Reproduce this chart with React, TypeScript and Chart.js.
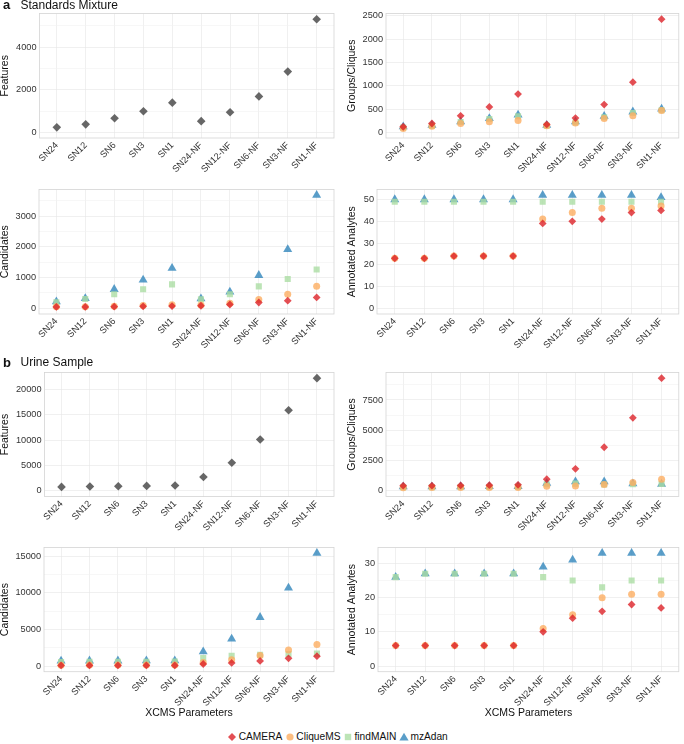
import React, { useEffect, useRef } from "react";
import { Chart, registerables } from "chart.js";

Chart.register(...registerables);

// ---------------- data ----------------
const categories = ["SN24", "SN12", "SN6", "SN3", "SN1", "SN24-NF", "SN12-NF", "SN6-NF", "SN3-NF", "SN1-NF"];
const methods = ["CAMERA", "CliqueMS", "findMAIN", "mzAdan"];

// a. Standards Mixture
const stdFeatures = [235, 375, 665, 990, 1395, 525, 945, 1690, 2855, 5320];
const stdGroupsCAMERA = [120, 190, 355, 545, 820, 170, 305, 595, 1075, 2425];
const stdGroupsCliqueMS = [85, 130, 190, 225, 255, 140, 200, 295, 355, 470];
const stdGroupsFindMAIN = [105, 140, 220, 285, 345, 140, 210, 325, 415, 475];
const stdGroupsMzAdan = [120, 155, 230, 300, 375, 155, 230, 345, 440, 500];
const stdCandCAMERA = [45, 45, 55, 65, 75, 85, 125, 190, 250, 355];
const stdCandCliqueMS = [55, 55, 65, 95, 115, 105, 165, 285, 460, 715];
const stdCandFindMAIN = [200, 305, 460, 620, 780, 295, 460, 715, 955, 1265];
const stdCandMzAdan = [220, 325, 620, 925, 1305, 315, 535, 1075, 1915, 3680];
const stdAnnCAMERA = [23, 23, 24, 24, 24, 39, 40, 41, 44, 45];
const stdAnnCliqueMS = [23, 23, 24, 24, 24, 41, 44, 46, 46, 47];
const stdAnnFindMAIN = [49, 49, 49, 49, 49, 49, 49, 49, 49, 49];
const stdAnnMzAdan = [50, 50, 50, 50, 50, 52, 52, 52, 52, 51];

// b. Urine Sample
const urnFeatures = [780, 850, 915, 980, 1045, 2745, 5555, 10130, 15880, 22220];
const urnGroupsCAMERA = [430, 430, 450, 470, 500, 960, 1820, 3600, 6030, 9300];
const urnGroupsCliqueMS = [250, 270, 275, 280, 285, 385, 410, 520, 690, 960];
const urnGroupsFindMAIN = [300, 310, 315, 320, 330, 550, 600, 520, 550, 580];
const urnGroupsMzAdan = [350, 350, 355, 360, 370, 640, 760, 760, 600, 560];
const urnCandCAMERA = [80, 80, 80, 90, 90, 280, 430, 700, 1050, 1350];
const urnCandCliqueMS = [120, 130, 130, 140, 150, 480, 850, 1450, 2200, 2950];
const urnCandFindMAIN = [560, 580, 580, 590, 600, 1100, 1400, 1550, 1650, 1700];
const urnCandMzAdan = [700, 720, 720, 730, 740, 1950, 3700, 6650, 10650, 15400];
const urnAnnCAMERA = [6, 6, 6, 6, 6, 10, 14, 16, 18, 17];
const urnAnnCliqueMS = [6, 6, 6, 6, 6, 11, 15, 20, 21, 21];
const urnAnnFindMAIN = [26, 27, 27, 27, 27, 26, 25, 23, 25, 25];
const urnAnnMzAdan = [26, 27, 27, 27, 27, 29, 31, 33, 33, 33];

// tick labels
const ticksStdFeatures = [0, 2000, 4000];
const ticksStdGroups = [0, 500, 1000, 1500, 2000, 2500];
const ticksStdCand = [0, 1000, 2000, 3000];
const ticksStdAnn = [0, 10, 20, 30, 40, 50];
const ticksUrnFeatures = [0, 5000, 10000, 15000, 20000];
const ticksUrnGroups = [0, 2500, 5000, 7500];
const ticksUrnCand = [0, 5000, 10000, 15000];
const ticksUrnAnn = [0, 10, 20, 30];

// ---------------- styles ----------------
const FONT = "'Liberation Sans', Arial, Helvetica, sans-serif";
const methodColors = ["rgba(221,30,36,0.78)", "rgba(253,174,97,0.8)", "rgba(171,221,164,0.8)", "rgba(43,131,186,0.78)"];
const methodShapes = ["rectRot", "circle", "rect", "triangle"];
const methodRadius = [3.9, 3.5, 4.3, 5.2];
const featureColor = "rgba(70,70,70,0.82)";

type Box = { x: number; y: number; w: number; h: number };
type Plot = { l: number; t: number; r: number; b: number };
type Panel = {
  id: string;
  yTitle: string;
  xTitle?: string;
  series: number[][];
  single: boolean;
  yTicks: number[];
  canvas: Box;
  plot: Plot;
};

const panels: Panel[] = [
  { id: "a1", yTitle: "Features", single: true, series: [stdFeatures], yTicks: ticksStdFeatures,
    canvas: { x: 0, y: 5, w: 342, h: 172 }, plot: { l: 39.5, t: 13, r: 334, b: 138 } },
  { id: "a2", yTitle: "Groups/Cliques", single: false,
    series: [stdGroupsCAMERA, stdGroupsCliqueMS, stdGroupsFindMAIN, stdGroupsMzAdan], yTicks: ticksStdGroups,
    canvas: { x: 347, y: 5, w: 337, h: 172 }, plot: { l: 386, t: 13, r: 681, b: 138 } },
  { id: "a3", yTitle: "Candidates", single: false,
    series: [stdCandCAMERA, stdCandCliqueMS, stdCandFindMAIN, stdCandMzAdan], yTicks: ticksStdCand,
    canvas: { x: 0, y: 181, w: 342, h: 174 }, plot: { l: 39, t: 189, r: 334, b: 314 } },
  { id: "a4", yTitle: "Annotated Analytes", single: false,
    series: [stdAnnCAMERA, stdAnnCliqueMS, stdAnnFindMAIN, stdAnnMzAdan], yTicks: ticksStdAnn,
    canvas: { x: 347, y: 181, w: 337, h: 174 }, plot: { l: 377, t: 189, r: 681, b: 314 } },
  { id: "b1", yTitle: "Features", single: true, series: [urnFeatures], yTicks: ticksUrnFeatures,
    canvas: { x: 0, y: 364, w: 342, h: 172 }, plot: { l: 44.5, t: 372.3, r: 334, b: 496.5 } },
  { id: "b2", yTitle: "Groups/Cliques", single: false,
    series: [urnGroupsCAMERA, urnGroupsCliqueMS, urnGroupsFindMAIN, urnGroupsMzAdan], yTicks: ticksUrnGroups,
    canvas: { x: 347, y: 364, w: 337, h: 172 }, plot: { l: 386, t: 372.3, r: 681, b: 496.5 } },
  { id: "b3", yTitle: "Candidates", xTitle: "XCMS Parameters", single: false,
    series: [urnCandCAMERA, urnCandCliqueMS, urnCandFindMAIN, urnCandMzAdan], yTicks: ticksUrnCand,
    canvas: { x: 0, y: 539, w: 342, h: 179 }, plot: { l: 44, t: 547.3, r: 334, b: 671.7 } },
  { id: "b4", yTitle: "Annotated Analytes", xTitle: "XCMS Parameters", single: false,
    series: [urnAnnCAMERA, urnAnnCliqueMS, urnAnnFindMAIN, urnAnnMzAdan], yTicks: ticksUrnAnn,
    canvas: { x: 347, y: 539, w: 337, h: 179 }, plot: { l: 378, t: 547.3, r: 681, b: 671.7 } },
];

const borderPlugin = {
  id: "panelBorder",
  beforeDatasetsDraw(chart: any) {
    const { ctx, chartArea } = chart;
    const { left, top, right, bottom } = chartArea;
    ctx.save();
    ctx.strokeStyle = "#d4d4d4";
    ctx.lineWidth = 0.8;
    ctx.strokeRect(left, top, right - left, bottom - top);
    ctx.restore();
  },
};

function buildConfig(p: Panel): any {
  const all = p.series.flat();
  const dmax = Math.max(...all);
  const dmin = Math.min(0, ...all);
  const span = dmax - dmin;
  const ymin = dmin - 0.05 * span;
  const ymax = dmax + 0.05 * span;
  const step = p.yTicks[1] - p.yTicks[0];
  const minors: number[] = [];
  for (let v = p.yTicks[0] - step / 2; v <= ymax; v += step) if (v >= ymin) minors.push(v);
  const majorSet = new Set(p.yTicks);
  const yTickVals = [...p.yTicks, ...minors].sort((a, b) => a - b);

  const datasets = p.single
    ? [{
        label: p.yTitle,
        data: p.series[0].map((v, i) => ({ x: i, y: v })),
        pointStyle: "rectRot",
        pointRadius: 4.3,
        backgroundColor: featureColor,
        borderWidth: 0,
        showLine: false,
      }]
    : methods.map((m, k) => ({
        label: m,
        data: p.series[k].map((v, i) => ({ x: i, y: v })),
        pointStyle: methodShapes[k],
        pointRadius: methodRadius[k],
        backgroundColor: methodColors[k],
        borderWidth: 0,
        showLine: false,
      }));

  const tickFont = { family: FONT, size: 9.2 };
  const titleFont = { family: FONT, size: 10.5, lineHeight: 1 };

  return {
    type: "scatter",
    data: { datasets },
    plugins: [borderPlugin],
    options: {
      animation: false,
      responsive: false,
      events: [],
      layout: {
        padding: {
          top: p.plot.t - p.canvas.y,
          right: p.canvas.x + p.canvas.w - p.plot.r,
          left: 0,
          bottom: 0,
        },
      },
      plugins: { legend: { display: false }, tooltip: { enabled: false } },
      scales: {
        x: {
          type: "linear",
          min: -0.6,
          max: categories.length - 0.4,
          afterBuildTicks: (s: any) => { s.ticks = categories.map((_, i) => ({ value: i })); },
          afterFit: (s: any) => { s.height = p.canvas.y + p.canvas.h - p.plot.b; },
          ticks: {
            autoSkip: false,
            minRotation: 45,
            maxRotation: 45,
            padding: 2,
            color: "#333333",
            font: tickFont,
            callback: (v: any) => categories[v] ?? "",
          },
          grid: { color: "#e6e6e6", lineWidth: 0.6, drawTicks: false },
          border: { display: false },
          title: p.xTitle
            ? { display: true, text: p.xTitle, color: "#111111", font: titleFont, padding: 0 }
            : { display: false },
        },
        y: {
          type: "linear",
          min: ymin,
          max: ymax,
          afterBuildTicks: (s: any) => { s.ticks = yTickVals.map((v) => ({ value: v })); },
          afterFit: (s: any) => { s.width = p.plot.l - p.canvas.x; },
          ticks: {
            padding: 3,
            color: "#333333",
            font: tickFont,
            callback: (v: any) => (majorSet.has(v) ? String(v) : ""),
          },
          grid: {
            color: (ctx: any) => (ctx.tick && majorSet.has(ctx.tick.value) ? "#e6e6e6" : "#f2f2f2"),
            lineWidth: 0.6,
            drawTicks: false,
          },
          border: { display: false },
          title: { display: true, text: p.yTitle, color: "#111111", font: titleFont, padding: 0 },
        },
      },
    },
  };
}

function PanelChart({ p }: { p: Panel }) {
  const ref = useRef<HTMLCanvasElement | null>(null);
  useEffect(() => {
    if (!ref.current) return;
    const chart = new Chart(ref.current, buildConfig(p));
    return () => chart.destroy();
  }, [p]);
  return (
    <canvas
      ref={ref}
      width={p.canvas.w}
      height={p.canvas.h}
      style={{ position: "absolute", left: p.canvas.x, top: p.canvas.y, width: p.canvas.w, height: p.canvas.h }}
    />
  );
}

function Marker({ k }: { k: number }) {
  const c = methodColors[k];
  let shape: React.ReactNode = null;
  if (k === 0) shape = <polygon points="5,1 9,5 5,9 1,5" fill={c} />;
  if (k === 1) shape = <circle cx="5" cy="5" r="3.6" fill={c} />;
  if (k === 2) shape = <rect x="1.8" y="1.8" width="6.4" height="6.4" fill={c} />;
  if (k === 3) shape = <polygon points="5,0.8 9.6,8.6 0.4,8.6" fill={c} />;
  return (
    <svg width="10" height="10" viewBox="0 0 10 10" style={{ display: "block" }}>
      {shape}
    </svg>
  );
}

export default function App() {
  const textStyle: React.CSSProperties = { position: "absolute", fontFamily: FONT, lineHeight: 1, color: "#111", whiteSpace: "nowrap" };
  return (
    <div style={{ position: "absolute", left: 0, top: 0, width: 684, height: 744, background: "#fff", overflow: "hidden" }}>
      {panels.map((p) => (
        <PanelChart key={p.id} p={p} />
      ))}
      <span style={{ ...textStyle, left: 3, top: -1.8, fontSize: 13, fontWeight: "bold" }}>a</span>
      <span style={{ ...textStyle, left: 20.5, top: -0.9, fontSize: 12 }}>Standards Mixture</span>
      <span style={{ ...textStyle, left: 3, top: 355.5, fontSize: 13, fontWeight: "bold" }}>b</span>
      <span style={{ ...textStyle, left: 20.5, top: 356.3, fontSize: 12 }}>Urine Sample</span>
      <div style={{ position: "absolute", left: 0, width: 675, top: 732, display: "flex", justifyContent: "center", alignItems: "center", fontFamily: FONT, fontSize: 10.2, color: "#111", lineHeight: 1 }}>
        {methods.map((m, k) => (
          <div key={m} style={{ display: "flex", alignItems: "center", marginRight: k < 3 ? 2.5 : 0 }}>
            <Marker k={k} />
            <span style={{ marginLeft: 1.5 }}>{m}</span>
          </div>
        ))}
      </div>
    </div>
  );
}
